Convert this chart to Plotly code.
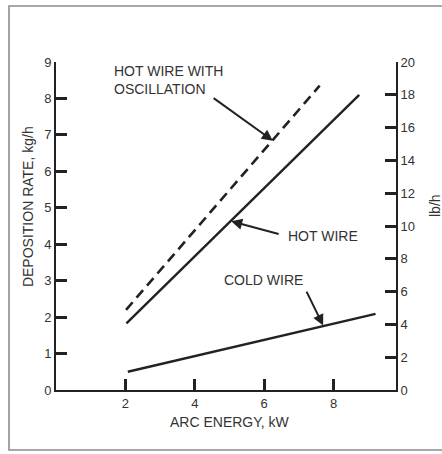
import plotly.graph_objects as go

# ---- data ----
arc_energy_osc = [2.02, 7.6]
rate_osc = [2.2, 8.35]

arc_energy_hot = [2.03, 8.74]
rate_hot = [1.83, 8.1]

arc_energy_cold = [2.07, 9.21]
rate_cold = [0.5, 2.09]

x_ticks = [2, 4, 6, 8]
y_ticks = [0, 1, 2, 3, 4, 5, 6, 7, 8, 9]
y2_ticks = [0, 2, 4, 6, 8, 10, 12, 14, 16, 18, 20]

INK = "#222222"
TXT = "#333333"
FONT = "Liberation Sans, Arial, sans-serif"

fig = go.Figure()
fig.add_trace(go.Scatter(x=arc_energy_osc, y=rate_osc, mode="lines",
                         line=dict(color=INK, width=2.6, dash="10px,6px"),
                         showlegend=False, hoverinfo="skip"))
fig.add_trace(go.Scatter(x=arc_energy_hot, y=rate_hot, mode="lines",
                         line=dict(color=INK, width=2.4),
                         showlegend=False, hoverinfo="skip"))
fig.add_trace(go.Scatter(x=arc_energy_cold, y=rate_cold, mode="lines",
                         line=dict(color=INK, width=2.4),
                         showlegend=False, hoverinfo="skip"))
# invisible trace to activate the right axis
fig.add_trace(go.Scatter(x=[0], y=[0], yaxis="y2", mode="lines",
                         line=dict(width=0), showlegend=False, hoverinfo="skip"))

axis_common = dict(showgrid=False, zeroline=False, showline=True,
                   linecolor=INK, linewidth=2, ticks="inside",
                   tickcolor=INK, tickwidth=2.5, ticklen=11,
                   tickfont=dict(family=FONT, size=13, color=TXT))

fig.update_layout(
    width=442, height=454,
    margin=dict(l=56, r=46, t=62, b=64),
    paper_bgcolor="white", plot_bgcolor="white",
    xaxis=dict(range=[0, 9.8], tickvals=x_ticks, **axis_common),
    yaxis=dict(range=[0, 9], tickvals=y_ticks, **axis_common),
    yaxis2=dict(range=[0, 20], tickvals=y2_ticks, overlaying="y",
                side="right", **axis_common),
    font=dict(family=FONT, color=TXT),
)

# outer frame (right edge lies beyond the picture, as in the reference)
fig.add_shape(type="rect", xref="paper", yref="paper",
              x0=-0.1382, x1=1.16, y0=-0.1829, y1=1.1707,
              line=dict(color="#8c8c8c", width=1.6))

tfont = dict(family=FONT, size=14, color=TXT)
ctr = dict(xanchor="center", yanchor="middle", showarrow=False, font=tfont)

# axis titles
fig.add_annotation(text="DEPOSITION RATE, kg/h", xref="paper", yref="paper",
                   x=-0.082, y=0.558, textangle=-90, **ctr)
fig.add_annotation(text="lb/h", xref="paper", yref="paper",
                   x=1.1147, y=0.564, textangle=-90, **ctr)
fig.add_annotation(text="ARC ENERGY, kW", xref="paper", yref="paper",
                   x=0.512, y=-0.098, **ctr)

# labels
fig.add_annotation(text="HOT WIRE WITH<br>OSCILLATION", x=1.61, y=8.51,
                   xanchor="left", yanchor="middle", align="left",
                   showarrow=False, font=tfont)
fig.add_annotation(text="HOT WIRE", x=6.63, y=4.23, xanchor="left",
                   yanchor="middle", showarrow=False, font=tfont)
fig.add_annotation(text="COLD WIRE", x=4.78, y=3.02, xanchor="left",
                   yanchor="middle", showarrow=False, font=tfont)

# arrows
arrow_style = dict(text="", showarrow=True, arrowhead=2, arrowsize=1.1,
                   arrowwidth=2, arrowcolor=INK, axref="x", ayref="y")
fig.add_annotation(x=6.25, y=6.84, ax=4.50, ay=8.04, **arrow_style)
fig.add_annotation(x=5.05, y=4.63, ax=6.46, ay=4.27, **arrow_style)
fig.add_annotation(x=7.70, y=1.77, ax=7.20, ay=2.74, **arrow_style)

# remove the browser's default 8px body margin so the figure fills the window
fig.write_html(
    "out.html",
    config={"displayModeBar": False},
    post_script="document.body.style.margin='0';document.body.style.overflow='hidden';",
)
